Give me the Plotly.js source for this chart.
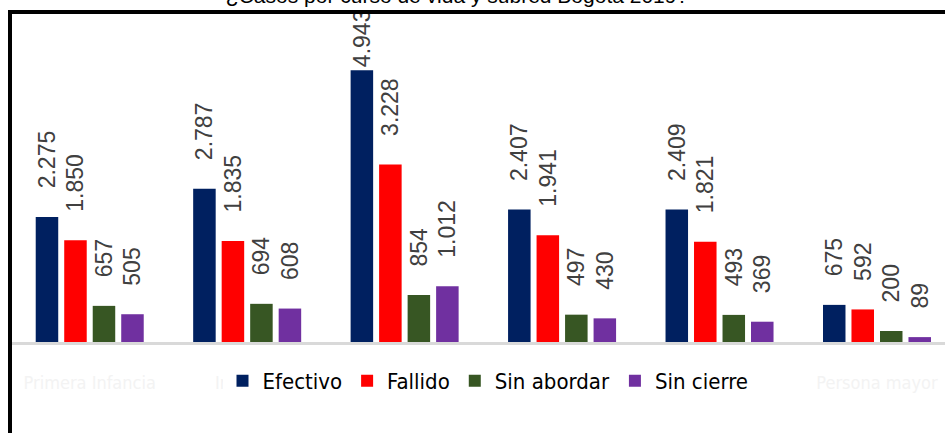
<!DOCTYPE html>
<html>
<head>
<meta charset="utf-8">
<script src="https://cdn.plot.ly/plotly-3.0.1.min.js"></script>
<style>
html,body{margin:0;padding:0;background:#fff;}
#chart{width:945px;height:433px;}
</style>
</head>
<body>
<div id="chart"></div>
<script>
const categories = ["Primera Infancia", "Infancia", "Adolescencia", "Juventud", "Adultez", "Persona mayor"];
const efectivo   = [2275, 2787, 4943, 2407, 2409, 675];
const fallido    = [1850, 1835, 3228, 1941, 1821, 592];
const sinAbordar = [657, 694, 854, 497, 493, 200];
const sinCierre  = [505, 608, 1012, 430, 369, 89];
const seriesNames = ["Efectivo", "Fallido", "Sin abordar", "Sin cierre"];
const seriesColors = ["#002060", "#ff0000", "#375623", "#7030a0"];
const titleText = "¿Casos por curso de vida y subred Bogotá 2019?";

const allVals = [].concat(efectivo, fallido, sinAbordar, sinCierre);
const maxVal = Math.max(...allVals);
const PAD = "\u00a0\u00a0\u00a0\u00a0";

const seriesData = [efectivo, fallido, sinAbordar, sinCierre];
const traces = seriesData.map((vals, i) => ({
  type: "bar",
  name: seriesNames[i],
  x: categories,
  y: vals,
  marker: {color: seriesColors[i], line: {width: 0}},
  texttemplate: vals.map(v => (v === maxVal ? "" : PAD) + "%{y:,}"),
  textposition: "outside",
  textangle: -90,
  cliponaxis: false,
  constraintext: "none",
  textfont: {family: "Liberation Sans, Arial, sans-serif", size: 23, color: "#404040"},
  hoverinfo: "skip"
}));

const narrow = "Liberation Sans Narrow, Arial Narrow, DejaVu Sans Condensed, sans-serif";
const pxL = 11, pxW = 934, pxTop = 12, pxBot = 342, pxH = pxBot - pxTop;
const layout = {
  width: 945, height: 433,
  margin: {l: pxL, r: 0, t: pxTop, b: 433 - pxBot, pad: 0},
  paper_bgcolor: "#ffffff",
  plot_bgcolor: "#ffffff",
  separators: ",.",
  barmode: "group",
  bargap: 0.276,
  bargroupgap: 0.21,
  showlegend: true,
  title: {
    text: titleText,
    font: {family: "Liberation Sans, Arial, sans-serif", size: 21, color: "#000"},
    x: 457 / 945, xanchor: "center", xref: "container",
    y: 1 - 3 / 433, yanchor: "bottom", yref: "container"
  },
  xaxis: {
    type: "category",
    range: [-0.5, 5.432],
    showline: true, linecolor: "#d9d9d9", linewidth: 3,
    showgrid: false, zeroline: false, ticks: "",
    ticklabelstandoff: 22,
    tickfont: {family: narrow, size: 18, color: "#f3f3f3"},
    fixedrange: true
  },
  yaxis: {
    range: [0, 6000],
    visible: false, showgrid: false, zeroline: false, fixedrange: true
  },
  legend: {
    orientation: "h",
    x: (488 - pxL) / pxW, xanchor: "center",
    y: (pxBot - 381) / pxH, yanchor: "middle",
    bgcolor: "#ffffff",
    font: {family: narrow, size: 22, color: "#000"},
    itemwidth: 30,
    traceorder: "normal"
  },
  shapes: [{
    type: "rect", xref: "paper", yref: "paper",
    x0: (10 - pxL) / pxW, x1: 1.2,
    y0: -0.5, y1: (pxBot - 12) / pxH,
    line: {color: "#000000", width: 4},
    fillcolor: "rgba(0,0,0,0)",
    layer: "above"
  }]
};

Plotly.newPlot("chart", traces, layout, {displayModeBar: false, staticPlot: true});
</script>
</body>
</html>
